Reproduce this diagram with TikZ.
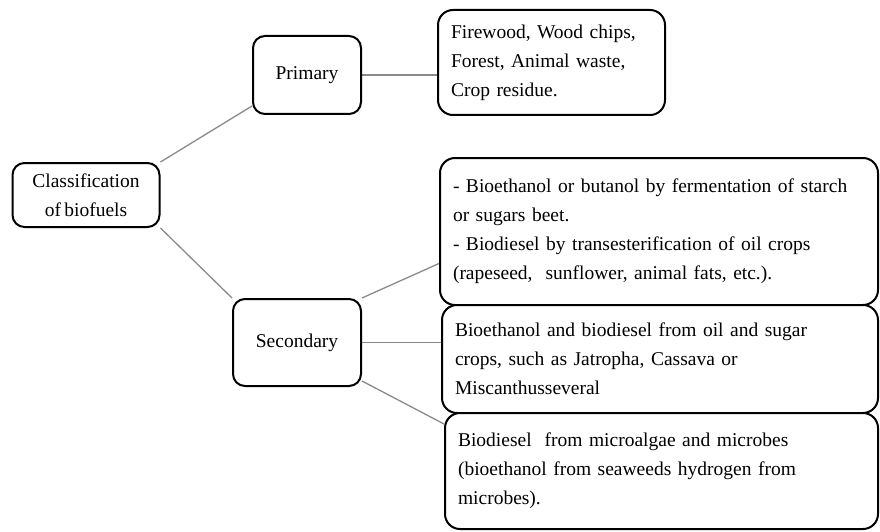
\documentclass[tikz,border=0pt]{standalone}
\usepackage{fontspec}
\setmainfont[WordSpace=0.7]{Liberation Serif}
\usetikzlibrary{backgrounds,calc}
\definecolor{linkgray}{HTML}{8A8A8A}
\begin{document}
\begin{tikzpicture}[x=1pt,y=-1pt,
  box/.style={draw=black, line width=2pt, rounded corners=12pt, fill=white,
    font=\fontsize{19.5}{29}\selectfont, inner sep=0pt, align=center},
  textbox/.style={box, inner xsep=13pt, align=left, rounded corners=15pt},
  link/.style={draw=linkgray, line width=1.3pt}]
\useasboundingbox (0,0) rectangle (880,532);

\node[box, minimum width=147pt, minimum height=64pt] (cls) at (86,195) {Classification\\of biofuels};
\node[box, minimum width=108pt, minimum height=78pt] (pri) at (307,75) {Primary};
\node[box, minimum width=128pt, minimum height=87pt] (sec) at (297,342.5) {Secondary};

\node[textbox, minimum height=105pt, text width=201pt] (tr) at (551.5,62.5)
  {Firewood, Wood chips,\\Forest, Animal\ waste,\\Crop residue.};
\node[textbox, minimum height=147pt, text width=412pt] (b1) at (659,231.5)
  {- Bioethanol or butanol by fermentation of starch\\or sugars beet.\\- Biodiesel by transesterification of oil crops\\(rapeseed,\ \ sunflower, animal fats, etc.).};
\node[textbox, minimum height=108pt, text width=410pt] (b2) at (660,359)
  {Bioethanol and biodiesel from oil and sugar\\crops, such as Jatropha, Cassava or\\Miscanthusseveral};
\node[textbox, minimum height=116pt, text width=407pt] (b3) at (661.5,471)
  {Biodiesel\ \ from microalgae and microbes\\(bioethanol from seaweeds hydrogen from\\microbes).};

\begin{scope}[on background layer]
\draw[link] (cls.north east) -- ($(pri.south west)+(0,-9)$);
\draw[link] (cls.south east) -- (sec.north west);
\draw[link] (pri.east) -- (pri.east -| tr.west);
\draw[link] (sec.north east) -- ($(b1.west)+(0,32)$);
\draw[link] (sec.east) -- (sec.east -| b2.west);
\draw[link] ($(sec.south east)+(0,-6)$) -- ($(b3.north west)+(0,12)$);
\end{scope}
\end{tikzpicture}
\end{document}
